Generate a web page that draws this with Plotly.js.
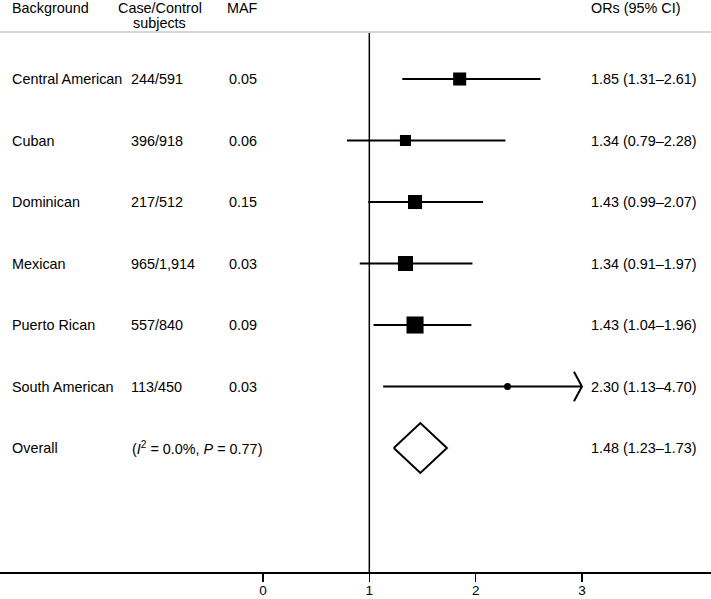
<!DOCTYPE html>
<html>
<head>
<meta charset="utf-8">
<script src="https://cdn.plot.ly/plotly-3.0.1.min.js"></script>
<style>html,body{margin:0;padding:0;background:#fff;}#chart{width:711px;height:599px;}</style>
</head>
<body>
<div id="chart"></div>
<script>
// ---- data ----
var studies = ["Central American", "Cuban", "Dominican", "Mexican", "Puerto Rican", "South American"];
var caseControl = ["244/591", "396/918", "217/512", "965/1,914", "557/840", "113/450"];
var mafValues = ["0.05", "0.06", "0.15", "0.03", "0.09", "0.03"];
var orValues = [1.85, 1.34, 1.43, 1.34, 1.43, 2.30];
var ciLow = [1.31, 0.79, 0.99, 0.91, 1.04, 1.13];
var ciHigh = [2.61, 2.28, 2.07, 1.97, 1.96, 4.70];
var weights = [16.6, 11.9, 19.3, 22.1, 28.4, 1.5];   // relative study weights (box area)
var overallLabel = "Overall";
var overallOR = 1.48, overallLow = 1.23, overallHigh = 1.73;
var heterogeneity = "(<i>I</i><sup>2</sup> = 0.0%, <i>P</i> = 0.77)";
var headers = ["Background", "Case/Control", "subjects", "MAF", "ORs (95% CI)"];
var tickValues = [0, 1, 2, 3];
var axisMax = 3;   // CI lines are clipped (with arrow) at the last tick

// ---- layout helpers ----
var W = 711, H = 599;
var FONT = "Liberation Sans, Arial, Helvetica, sans-serif";
var FS = 14.4;
function px(x) { return x / W; }
function fmt(v) { return v.toFixed(2); }

var rows = studies.map(function (_, i) { return i + 1; });
var overallRow = studies.length + 1;

var traces = [];
// CI lines
var lx = [], ly = [];
for (var i = 0; i < studies.length; i++) {
  lx.push(ciLow[i], Math.min(ciHigh[i], axisMax), null);
  ly.push(rows[i], rows[i], null);
}
traces.push({x: lx, y: ly, mode: "lines", line: {color: "#000", width: 2}, hoverinfo: "skip", showlegend: false});
// arrows for clipped CIs
var ax = [], ay = [];
var adx = 0.075, ady = 0.24;
for (var j = 0; j < studies.length; j++) {
  if (ciHigh[j] > axisMax) {
    ax.push(axisMax - adx, axisMax, axisMax - adx, null);
    ay.push(rows[j] - ady, rows[j], rows[j] + ady, null);
  }
}
traces.push({x: ax, y: ay, mode: "lines", line: {color: "#000", width: 2}, hoverinfo: "skip", showlegend: false});
// weighted boxes
traces.push({
  x: orValues, y: rows, mode: "markers",
  marker: {symbol: "square", color: "#000", opacity: 1, size: weights.map(function (w) { return 3.2 * Math.sqrt(w); }), line: {width: 0}},
  showlegend: false
});
// point estimate dots
traces.push({
  x: orValues, y: rows, mode: "markers",
  marker: {symbol: "circle", color: "#000", opacity: 1, size: 7, line: {width: 0}},
  showlegend: false
});
// overall diamond
var dh = 0.405;
traces.push({
  x: [overallLow, overallOR, overallHigh, overallOR, overallLow],
  y: [overallRow, overallRow - dh, overallRow, overallRow + dh, overallRow],
  mode: "lines", line: {color: "#000", width: 2}, hoverinfo: "skip", showlegend: false
});

// ---- annotations ----
var ann = [];
function addText(text, xPix, y, yref, anchor) {
  ann.push({
    text: text, x: px(xPix), xref: "paper", xanchor: anchor || "left",
    y: y, yref: yref, yanchor: "middle", showarrow: false,
    font: {family: FONT, size: FS, color: "#000"}
  });
}
var hy1 = (572 - 8) / 539, hy2 = (572 - 22.5) / 539;
addText(headers[0], 10, hy1, "paper");
addText(headers[1], 159.5, hy1, "paper", "center");
addText(headers[2], 159.5, hy2, "paper", "center");
addText(headers[3], 225, hy1, "paper");
addText(headers[4], 589, hy1, "paper");

for (var k = 0; k < studies.length; k++) {
  addText(studies[k], 10, rows[k], "y");
  addText(caseControl[k], 129, rows[k], "y");
  addText(mafValues[k], 227, rows[k], "y");
  addText(fmt(orValues[k]) + " (" + fmt(ciLow[k]) + "\u2013" + fmt(ciHigh[k]) + ")", 589, rows[k], "y");
}
addText(overallLabel, 10, overallRow, "y");
addText(heterogeneity, 130, overallRow, "y");
addText(fmt(overallOR) + " (" + fmt(overallLow) + "\u2013" + fmt(overallHigh) + ")", 589, overallRow, "y");

var layout = {
  width: W, height: H,
  margin: {l: 0, r: 0, t: 33, b: 27, pad: 0},
  paper_bgcolor: "#fff", plot_bgcolor: "#fff",
  font: {family: FONT, size: FS, color: "#000"},
  showlegend: false,
  xaxis: {
    range: [-2.474, 4.214], tickvals: tickValues, ticktext: tickValues.map(String),
    showgrid: false, zeroline: false, showline: true, linecolor: "#000", linewidth: 1.5,
    ticks: "outside", ticklen: 8, tickwidth: 1.5, tickcolor: "#000", ticklabelstandoff: -3,
    tickfont: {family: FONT, size: 13.5, color: "#000"}, fixedrange: true
  },
  yaxis: {
    range: [9.016, 0.252], visible: false, showgrid: false, zeroline: false, fixedrange: true
  },
  shapes: [
    {type: "line", xref: "paper", yref: "paper", x0: 0, x1: 1, y0: 1.002, y1: 1.002, line: {color: "#c8c8c8", width: 1.5}},
    {type: "line", xref: "x", yref: "paper", x0: 1, x1: 1, y0: 0, y1: 1, line: {color: "#000", width: 1.5}}
  ],
  annotations: ann
};

Plotly.newPlot("chart", traces, layout, {displayModeBar: false, staticPlot: true});
</script>
</body>
</html>
